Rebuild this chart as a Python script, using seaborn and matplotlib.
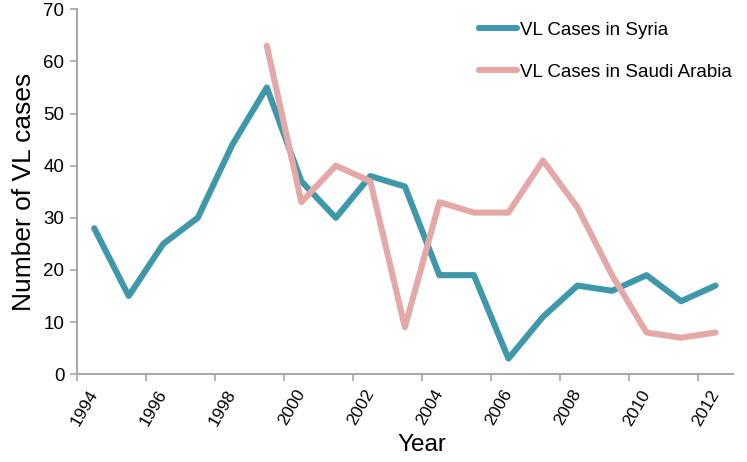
#!/usr/bin/env python3
"""VL cases in Syria and Saudi Arabia, 1994-2012."""

import pandas as pd
import seaborn as sns
import matplotlib.pyplot as plt

YEARS = list(range(1994, 2013))
SYRIA = [28, 15, 25, 30, 44, 55, 37, 30, 38, 36, 19, 19, 3, 11, 17, 16, 19, 14, 17]
SAUDI_YEARS = list(range(1999, 2013))
SAUDI = [63, 33, 40, 37, 9, 33, 31, 31, 41, 32, 19, 8, 7, 8]

SYRIA_LABEL = "VL Cases in Syria"
SAUDI_LABEL = "VL Cases in Saudi Arabia"
PALETTE = {SYRIA_LABEL: "#3F98AA", SAUDI_LABEL: "#E4A9A7"}
SPINE = "#A6A6A6"


def build_frame() -> pd.DataFrame:
    """Long-form table; x is the category index like an Excel category axis."""
    syria = pd.DataFrame({"year": YEARS, "cases": SYRIA, "series": SYRIA_LABEL})
    saudi = pd.DataFrame({"year": SAUDI_YEARS, "cases": SAUDI, "series": SAUDI_LABEL})
    df = pd.concat([syria, saudi], ignore_index=True)
    df["pos"] = df["year"] - YEARS[0]
    return df


def main() -> None:
    sns.set_theme(style="white")
    plt.rcParams["font.family"] = ["Liberation Sans", "DejaVu Sans"]
    plt.rcParams["text.color"] = "black"
    plt.rcParams["axes.labelcolor"] = "black"

    df = build_frame()
    fig = plt.figure(figsize=(7.47, 4.62), dpi=100)
    ax = fig.add_axes([0.103, 0.19, 0.878, 0.79])

    sns.lineplot(data=df, x="pos", y="cases", hue="series", palette=PALETTE,
                 linewidth=4.4, ax=ax, legend=True)

    n = len(YEARS)
    ax.set_xlim(-0.5, n - 0.5)
    ax.set_ylim(0, 70)
    ax.set_yticks(range(0, 71, 10))
    ax.tick_params(axis="y", labelsize=13.5, colors=SPINE, labelcolor="black",
                   length=5, width=1.2, direction="out", left=True, pad=4)

    # tick marks between categories, labels centred on every other category
    ax.set_xticks([i - 0.5 for i in range(0, n, 2)])
    ax.set_xticklabels([])
    ax.tick_params(axis="x", which="major", colors=SPINE, length=5, width=1.2,
                   direction="out", bottom=True)
    ax.set_xticks(list(range(0, n, 2)), minor=True)
    ax.set_xticklabels([str(y) for y in YEARS[::2]], minor=True, rotation=60,
                       ha="right", va="center", rotation_mode="anchor", fontsize=12.5)
    ax.tick_params(axis="x", which="minor", length=0, pad=12, labelcolor="black")

    for side in ("top", "right"):
        ax.spines[side].set_visible(False)
    for side in ("left", "bottom"):
        ax.spines[side].set_color(SPINE)
        ax.spines[side].set_linewidth(1.4)

    ax.set_xlabel("Year", fontsize=17.5)
    ax.xaxis.set_label_coords(0.526, -0.165)
    ax.set_ylabel("Number of VL cases", fontsize=19, labelpad=5)

    ax.legend(frameon=False, fontsize=13.5, handlelength=2.0, handletextpad=0.15,
              labelspacing=1.35, loc="upper left", bbox_to_anchor=(0.619, 0.99),
              bbox_transform=fig.transFigure, title=None)

    fig.savefig("out.png", dpi=100)
    plt.close(fig)


if __name__ == "__main__":
    main()
